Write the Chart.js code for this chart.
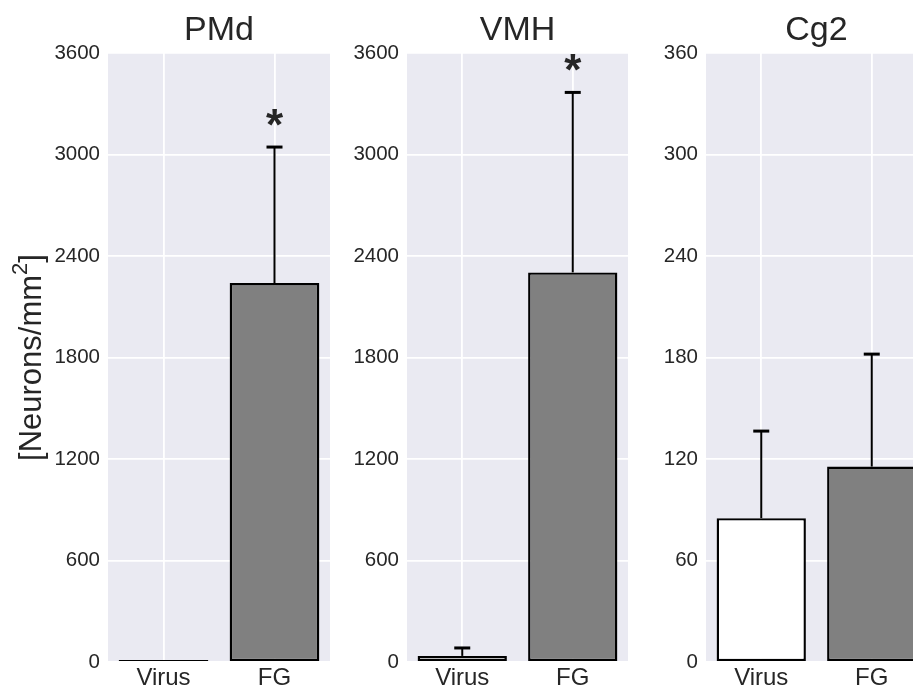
<!DOCTYPE html>
<html>
<head>
<meta charset="utf-8">
<script src="https://cdn.jsdelivr.net/npm/chart.js@4/dist/chart.umd.min.js"></script>
<style>
    body { margin: 0; background: #ffffff; overflow: hidden; width: 913px; height: 692px; position: relative; }
    canvas { position: absolute; top: 0; }
</style>
</head>
<body>
<canvas id="pmdChart" width="340" height="692" style="left:0px"></canvas>
<canvas id="vmhChart" width="300" height="692" style="left:340px"></canvas>
<canvas id="cg2Chart" width="300" height="692" style="left:640px"></canvas>

<script>
// -----------------------------
// DATA
// -----------------------------
const groups = ["Virus", "FG"];

const pmdMeans = [12, 2240];
const pmdErrors = [0, 804];
const pmdStars = [false, true];
const pmdTicks = [0, 600, 1200, 1800, 2400, 3000, 3600];

const vmhMeans = [36, 2303];
const vmhErrors = [47, 1064];
const vmhStars = [false, true];
const vmhTicks = [0, 600, 1200, 1800, 2400, 3000, 3600];

const cg2Means = [85, 115.5];
const cg2Errors = [51.5, 66.5];
const cg2Stars = [false, false];
const cg2Ticks = [0, 60, 120, 180, 240, 300, 360];

const barColors = ["#ffffff", "#808080"];
const textColor = "#262626";
const fontFamily = "'Liberation Sans', Arial, sans-serif";

/* =========================
   PLUGINS
========================= */

// grey seaborn-like background behind the grid
const backgroundPlugin = {
    id: "panelBackground",
    beforeDraw(chart) {
        const a = chart.chartArea;
        const ctx = chart.ctx;
        ctx.save();
        ctx.fillStyle = "#eaeaf2";
        ctx.fillRect(a.left, a.top, a.right - a.left, a.bottom - a.top);
        ctx.restore();
    }
};

// panel title centred over the plot area, plus optional y label with a real superscript
const panelTextPlugin = {
    id: "panelText",
    afterDraw(chart, args, opts) {
        const a = chart.chartArea;
        const ctx = chart.ctx;
        ctx.save();
        ctx.fillStyle = textColor;
        ctx.font = "34px " + fontFamily;
        ctx.textAlign = "center";
        ctx.textBaseline = "alphabetic";
        ctx.fillText(opts.title, (a.left + a.right) / 2, 40);

        if (opts.yLabel) {
            const bigFont = "31px " + fontFamily;
            const supFont = "22px " + fontFamily;
            ctx.font = bigFont;
            const w1 = ctx.measureText("[Neurons/mm").width;
            const w3 = ctx.measureText("]").width;
            ctx.font = supFont;
            const w2 = ctx.measureText("2").width;
            const total = w1 + w2 + w3;

            ctx.translate(30, (a.top + a.bottom) / 2);
            ctx.rotate(-Math.PI / 2);
            ctx.textAlign = "left";
            let x = -total / 2;
            ctx.font = bigFont;
            ctx.fillText("[Neurons/mm", x, 11);
            x += w1;
            ctx.font = supFont;
            ctx.fillText("2", x, -3);
            x += w2;
            ctx.font = bigFont;
            ctx.fillText("]", x, 11);
        }
        ctx.restore();
    }
};

// upper error bars + significance stars
const errorBarPlugin = {
    id: "errorBars",
    afterDatasetsDraw(chart, args, opts) {
        const ctx = chart.ctx;
        const meta = chart.getDatasetMeta(0);
        const yScale = chart.scales.y;
        ctx.save();
        meta.data.forEach((bar, i) => {
            const err = opts.errors[i];
            const mean = chart.data.datasets[0].data[i];
            const yTop = yScale.getPixelForValue(mean + err);
            const yBar = yScale.getPixelForValue(mean);
            if (err > 0) {
                ctx.strokeStyle = "#000000";
                ctx.lineWidth = 2;
                ctx.beginPath();
                ctx.moveTo(bar.x, yBar);
                ctx.lineTo(bar.x, yTop);
                ctx.stroke();
                // cap
                ctx.lineWidth = 3;
                ctx.beginPath();
                ctx.moveTo(bar.x - 8, yTop);
                ctx.lineTo(bar.x + 8, yTop);
                ctx.stroke();
            }
            if (opts.stars[i]) {
                ctx.fillStyle = "#262626";
                ctx.font = "bold 44px " + fontFamily;
                ctx.textAlign = "center";
                ctx.textBaseline = "alphabetic";
                ctx.fillText("*", bar.x, yTop - 7);
            }
        });
        ctx.restore();
    }
};

/* =========================
   ONE PANEL
========================= */
function makePanel(canvasId, title, means, errors, stars, ticks, axisWidth, rightPad, showLabel) {
    new Chart(document.getElementById(canvasId), {
        type: "bar",
        data: {
            labels: groups,
            datasets: [{
                data: means,
                backgroundColor: barColors,
                borderColor: "#000000",
                borderWidth: 2.4,
                borderSkipped: false,
                barPercentage: 0.808,
                categoryPercentage: 1.0
            }]
        },
        options: {
            responsive: false,
            animation: false,
            layout: { padding: { left: 0, right: rightPad, top: 53, bottom: 0 } },
            plugins: {
                legend: { display: false },
                tooltip: { enabled: false },
                title: { display: false },
                panelText: { title: title, yLabel: showLabel },
                errorBars: { errors: errors, stars: stars }
            },
            scales: {
                x: {
                    offset: true,
                    grid: { color: "#ffffff", lineWidth: 1.8, offset: false, drawTicks: false },
                    border: { display: false },
                    ticks: { color: textColor, font: { family: fontFamily, size: 24 }, padding: 2 },
                    afterFit(scale) { scale.height = 30; }
                },
                y: {
                    min: ticks[0],
                    max: ticks[ticks.length - 1],
                    afterBuildTicks(scale) { scale.ticks = ticks.map(v => ({ value: v })); },
                    grid: { color: "#ffffff", lineWidth: 1.8, drawTicks: false },
                    border: { display: false },
                    ticks: {
                        color: textColor,
                        font: { family: fontFamily, size: 20.5 },
                        padding: 8,
                        callback: v => String(v)
                    },
                    afterFit(scale) { scale.width = axisWidth; }
                }
            }
        },
        plugins: [backgroundPlugin, errorBarPlugin, panelTextPlugin]
    });
}

makePanel("pmdChart", "PMd", pmdMeans, pmdErrors, pmdStars, pmdTicks, 108, 10, true);
makePanel("vmhChart", "VMH", vmhMeans, vmhErrors, vmhStars, vmhTicks, 67, 12, false);
makePanel("cg2Chart", "Cg2", cg2Means, cg2Errors, cg2Stars, cg2Ticks, 66, 13, false);
</script>
</body>
</html>
